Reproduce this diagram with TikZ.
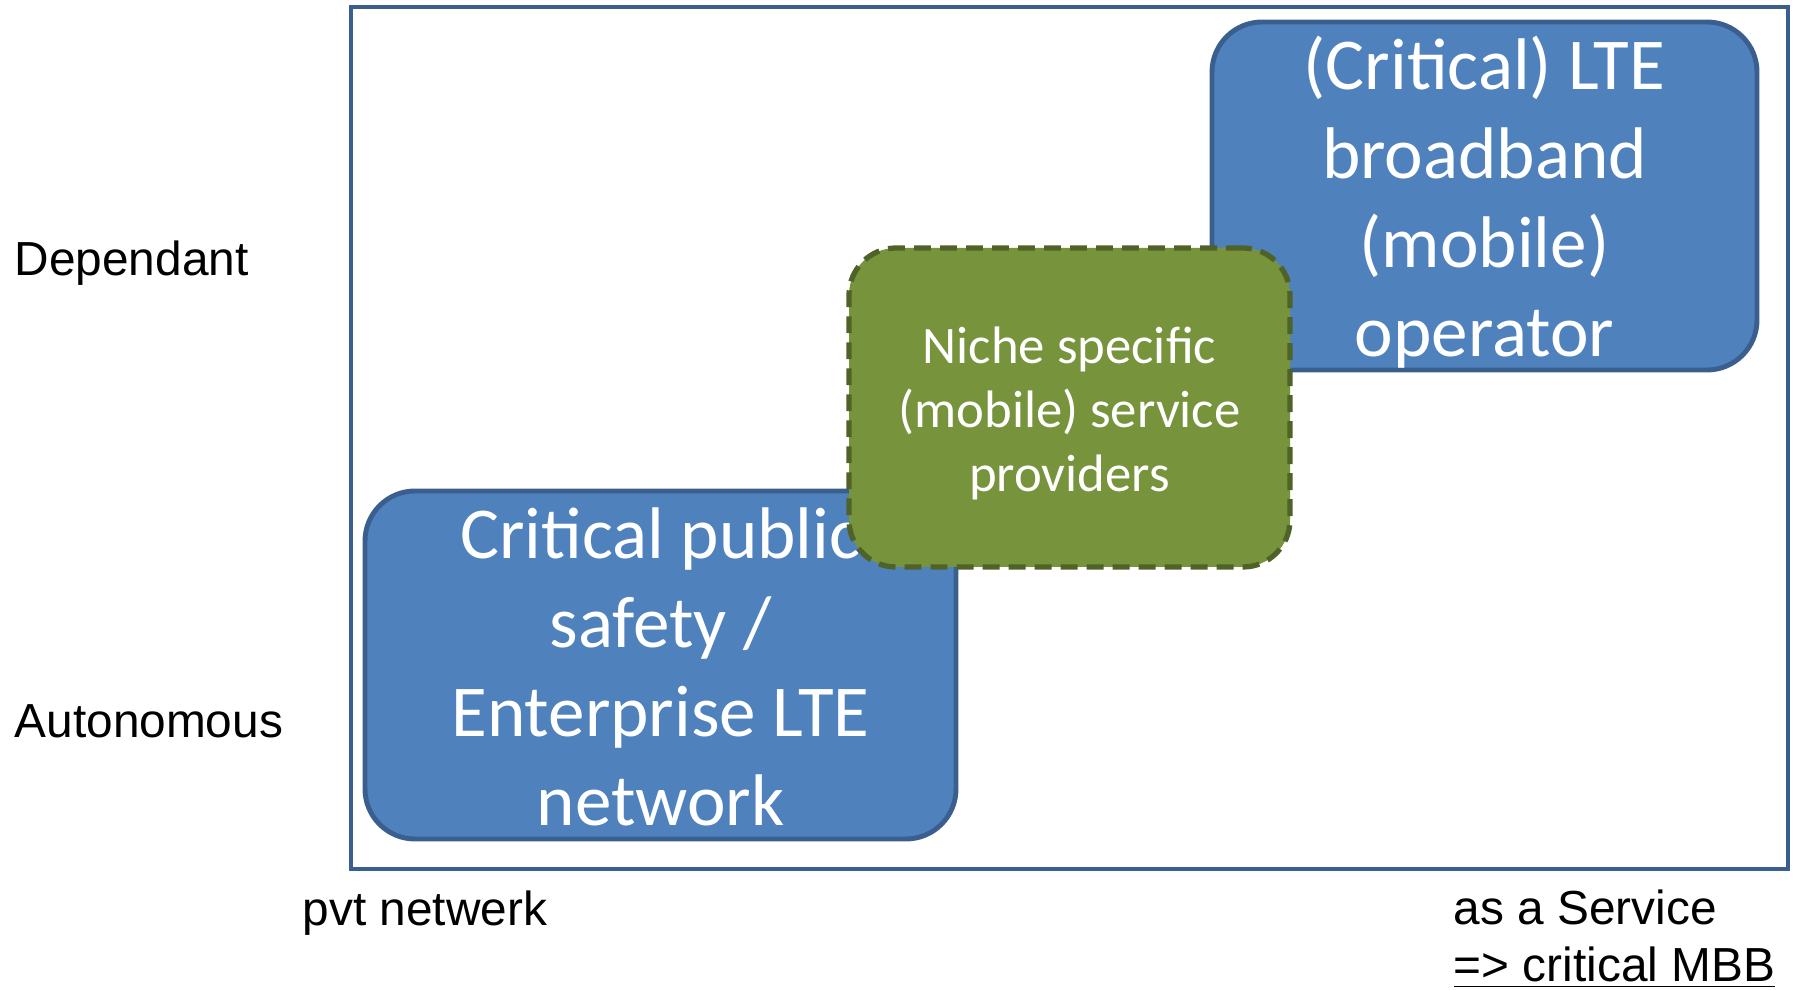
\documentclass[tikz,border=0pt]{standalone}
\usepackage{fontspec}
\setmainfont{Liberation Sans}
\newfontfamily\calibri{Carlito}
\definecolor{boxblue}{HTML}{4F81BD}
\definecolor{boxblueline}{HTML}{3A5F8E}
\definecolor{nichegreen}{HTML}{77933C}
\definecolor{nichegreenline}{HTML}{4F6228}

\begin{document}
\begin{tikzpicture}[
  axislabel/.style={font=\fontsize{13.6}{16.2}\selectfont, inner sep=0pt, align=left},
  bluebox/.style={draw=boxblueline, fill=boxblue, line width=1.4pt, rounded corners=0.5cm},
  bluetext/.style={inner sep=0pt, text=white, align=center, font=\calibri\fontsize{20.8}{25.3}\selectfont},
  nichebox/.style={draw=nichegreenline, fill=nichegreen, line width=1.5pt, rounded corners=0.47cm,
    dash pattern=on 4.8pt off 2.6pt},
  nichetext/.style={inner sep=0pt, text=white, align=center, font=\calibri\fontsize{15}{18.2}\selectfont}]

\useasboundingbox (0,0) rectangle (17.95,9.90);

\node[draw=boxblueline, line width=1.3pt, minimum width=14.37cm, minimum height=8.62cm]
  (frame) at (10.695,5.52) {};

\node[bluebox, minimum width=5.45cm, minimum height=3.48cm] (operator) at (14.845,7.94) {};
\node[bluetext] (operatortext) at ([yshift=-0.06cm]operator.center)
  {(Critical) LTE\\broadband\\(mobile)\\operator};
\node[bluebox, minimum width=5.91cm, minimum height=3.48cm] (safety) at (6.605,3.25) {};
\node[bluetext] (safetytext) at ([yshift=-0.02cm]safety.center)
  {Critical public\\safety /\\Enterprise LTE\\network};
\node[nichebox, minimum width=4.41cm, minimum height=3.19cm] (niche) at (10.695,5.825) {};
\node[nichetext] (nichetext) at ([yshift=-0.06cm]niche.center)
  {Niche specific\\(mobile) service\\providers};

% axis texts
\node[axislabel, anchor=base west] (dependant) at (0.14,7.14) {Dependant};
\node[axislabel, anchor=base west] (autonomous) at (0.14,2.52) {Autonomous};
\node[axislabel, anchor=base west] (pvt) at (3.02,0.64) {pvt netwerk};
\node[axislabel, anchor=north west] (service) at (14.53,1.01)
  {as a Service\\\underline{=> critical MBB}};
\end{tikzpicture}
\end{document}
